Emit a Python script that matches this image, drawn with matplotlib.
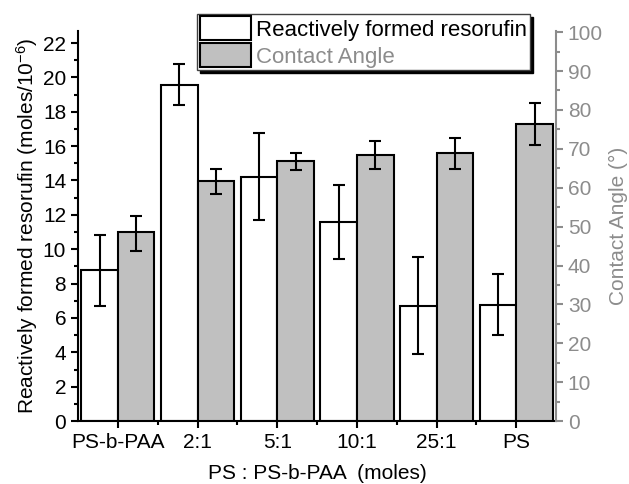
import numpy as np
import matplotlib.pyplot as plt
from matplotlib.patches import Patch
from matplotlib.ticker import MultipleLocator

plt.rcParams["font.family"] = ["Liberation Sans", "DejaVu Sans"]
plt.rcParams["mathtext.fontset"] = "custom"
plt.rcParams["mathtext.rm"] = "Liberation Sans"
plt.rcParams["mathtext.it"] = "Liberation Sans"

# -----------------------------
# Data
# -----------------------------
groups = ["PS-b-PAA", "2:1", "5:1", "10:1", "25:1", "PS"]

resorufin = [8.78, 19.58, 14.23, 11.59, 6.69, 6.78]
resorufin_lo = [6.7, 18.4, 11.69, 9.42, 3.9, 5.0]
resorufin_hi = [10.85, 20.8, 16.76, 13.76, 9.55, 8.53]

angle = [48.5, 61.7, 66.8, 68.5, 69.0, 76.5]
angle_lo = [43.7, 58.5, 64.6, 64.9, 64.9, 71.0]
angle_hi = [52.6, 64.9, 69.0, 72.0, 72.9, 81.9]

grey = "#c0c0c0"
axis_grey = "#8c8c8c"
fs = 15

# -----------------------------
# Plot
# -----------------------------
fig = plt.figure(figsize=(6.29, 4.84), dpi=100)
ax = fig.add_axes([0.124, 0.130, 0.760, 0.806])
ax2 = ax.twinx()

x = np.arange(len(groups))
w = 0.46

res = np.array(resorufin)
err1 = [res - np.array(resorufin_lo), np.array(resorufin_hi) - res]
ax.bar(x - w / 2, res, width=w, color="white", edgecolor="black", linewidth=1.5,
       yerr=err1, capsize=4, error_kw=dict(elinewidth=1.5, capthick=1.5, ecolor="black"),
       zorder=2)

ang = np.array(angle)
err2 = [ang - np.array(angle_lo), np.array(angle_hi) - ang]
ax2.bar(x + w / 2, ang, width=w, color=grey, edgecolor="black", linewidth=1.5,
        yerr=err2, capsize=4, error_kw=dict(elinewidth=1.5, capthick=1.5, ecolor="black"),
        zorder=2)

ax.set_xlim(-0.5, 5.5)
ax.set_ylim(0, 22.7)
ax2.set_ylim(0, 100.3)

ax.set_xticks(x)
ax.set_xticklabels(groups)
ax.set_xticks(x[:-1] + 0.5, minor=True)
ax.yaxis.set_major_locator(MultipleLocator(2))
ax.yaxis.set_minor_locator(MultipleLocator(1))
ax2.yaxis.set_major_locator(MultipleLocator(10))
ax2.yaxis.set_minor_locator(MultipleLocator(5))

ax.tick_params(axis="both", which="major", labelsize=fs, width=1.5, length=5)
ax.tick_params(axis="both", which="minor", width=1.5, length=3)
ax2.tick_params(axis="y", which="major", labelsize=fs, width=1.5, length=5,
                colors=axis_grey, labelcolor=axis_grey)
ax2.tick_params(axis="y", which="minor", width=1.5, length=3, colors=axis_grey)

for a in (ax, ax2):
    a.spines["top"].set_visible(False)
ax.spines["right"].set_visible(False)
ax.spines["left"].set_linewidth(1.5)
ax.spines["bottom"].set_linewidth(1.5)
ax2.spines["left"].set_visible(False)
ax2.spines["bottom"].set_visible(False)
ax2.spines["right"].set_color(axis_grey)
ax2.spines["right"].set_linewidth(1.5)

ax.set_ylabel("Reactively formed resorufin (moles/10$^{-6}$)", fontsize=fs, labelpad=2)
ax.set_xlabel("PS : PS-b-PAA  (moles)", fontsize=fs, labelpad=9)
ax2.set_ylabel("Contact Angle (°)", fontsize=fs, color=axis_grey, labelpad=4)

handles = [Patch(facecolor="white", edgecolor="black", linewidth=1.5),
           Patch(facecolor=grey, edgecolor="black", linewidth=1.5)]
leg = ax2.legend(handles, ["Reactively formed resorufin", "Contact Angle"],
                 loc="upper left", bbox_to_anchor=(0.249, 1.044), fontsize=16,
                 handlelength=2.3, handleheight=1.25, handletextpad=0.25,
                 labelspacing=0.12, borderpad=0.12, borderaxespad=0,
                 fancybox=False, framealpha=1, edgecolor="#404040",
                 shadow={"color": "black", "alpha": 1})
leg.get_frame().set_linewidth(1)
leg.get_texts()[1].set_color(axis_grey)
leg.set_zorder(5)

plt.savefig("out.png", dpi=100)
plt.close()
